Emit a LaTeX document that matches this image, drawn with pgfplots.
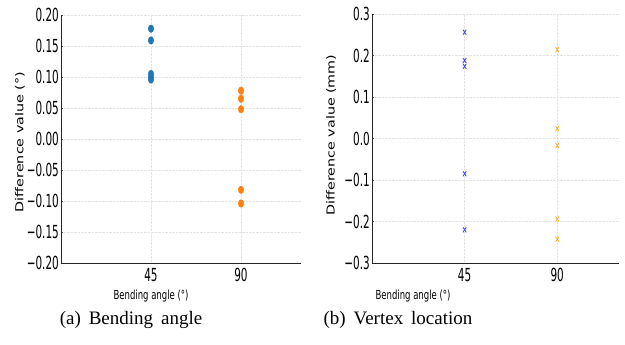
\documentclass[border=0pt]{standalone}
\usepackage{pgfplots}
\pgfplotsset{compat=1.18}
\usepackage{fontspec}
\setmainfont{Liberation Serif}
\newfontfamily\tickfont[FakeStretch=0.58]{DejaVu Sans}
\newfontfamily\xlabfont[FakeStretch=0.68]{DejaVu Sans}
\newfontfamily\ylabfont[FakeStretch=1.3]{DejaVu Sans}
\newcommand\mn{\char"2212\relax}
\definecolor{mplblue}{HTML}{1F77B4}
\definecolor{mplorange}{HTML}{FF7F0E}
\definecolor{xblue}{RGB}{60,60,250}
\definecolor{xorange}{RGB}{255,170,40}
\pgfplotsset{
  mystyle/.style={
    scale only axis,
    axis x line*=bottom, axis y line*=left,
    axis line style={black!85, line width=0.8pt, -},
    xmin=0, xmax=120,
    xtick={45,90}, xticklabels={45,90},
    major tick length=2pt, tick align=inside,
    xtick style={draw=none},
    ytick style={draw=black!70, line width=0.5pt},
    grid=major,
    major grid style={densely dotted, gray!22, line width=0.6pt},
    tick label style={font=\tickfont\fontsize{18}{20}\selectfont},
    xticklabel style={inner sep=0pt, yshift=-5pt},
    yticklabel style={inner sep=0pt, xshift=-2pt, anchor=east},
    xlabel={\xlabfont\fontsize{12.5}{14}\selectfont Bending angle (°)},
    clip=false,
  }
}
\begin{document}
\begin{tikzpicture}[x=1pt,y=1pt]
\useasboundingbox (0,0) rectangle (625,345);
\begin{axis}[mystyle,
  at={(61pt,82pt)}, anchor=south west,
  width=240pt, height=248pt,
  ymin=-0.2, ymax=0.2,
  ytick={-0.2,-0.15,-0.1,-0.05,0,0.05,0.1,0.15,0.2},
  yticklabels={\mn0.20,\mn0.15,\mn0.10,\mn0.05,0.00,0.05,0.10,0.15,0.20},
  xlabel style={at={(axis description cs:0.375,-0.133)}, anchor=center},
  ylabel={\ylabfont\fontsize{11}{13}\selectfont Difference value (°)},
  ylabel style={at={(axis description cs:-0.171,0.488)}, anchor=center, rotate=0},
]
\addplot[only marks, mark=*, color=mplblue, mark size=3.8pt, mark options={xscale=0.72}]
  coordinates {(45,0.178) (45,0.159) (45,0.105) (45,0.100) (45,0.096)};
\addplot[only marks, mark=*, color=mplorange, mark size=3.8pt, mark options={xscale=0.72}]
  coordinates {(90,0.078) (90,0.065) (90,0.048) (90,-0.082) (90,-0.104)};
\end{axis}
\begin{axis}[mystyle,
  at={(372pt,82pt)}, anchor=south west,
  width=247pt, height=249pt,
  ymin=-0.3, ymax=0.3,
  ytick={-0.3,-0.2,-0.1,0,0.1,0.2,0.3},
  yticklabels={\mn0.3,\mn0.2,\mn0.1,0.0,0.1,0.2,0.3},
  xlabel style={at={(axis description cs:0.166,-0.1325)}, anchor=center},
  ylabel={\ylabfont\fontsize{11}{13}\selectfont Difference value (mm)},
  ylabel style={at={(axis description cs:-0.165,0.514)}, anchor=center, rotate=0},
]
\addplot[only marks, mark=x, color=xblue, mark size=3.6pt, mark options={xscale=0.65, line width=0.8pt}]
  coordinates {(45,0.256) (45,0.188) (45,0.174) (45,-0.085) (45,-0.220)};
\addplot[only marks, mark=x, color=xorange, mark size=3.6pt, mark options={xscale=0.65, line width=0.8pt}]
  coordinates {(90,0.214) (90,0.024) (90,-0.017) (90,-0.194) (90,-0.243)};
\end{axis}
\node[font=\fontsize{19}{22}\selectfont] at (131,25) {(a)\, Bending\, angle};
\node[font=\fontsize{19}{22}\selectfont] at (398,25) {(b)\, Vertex\, location};
\end{tikzpicture}
\end{document}
